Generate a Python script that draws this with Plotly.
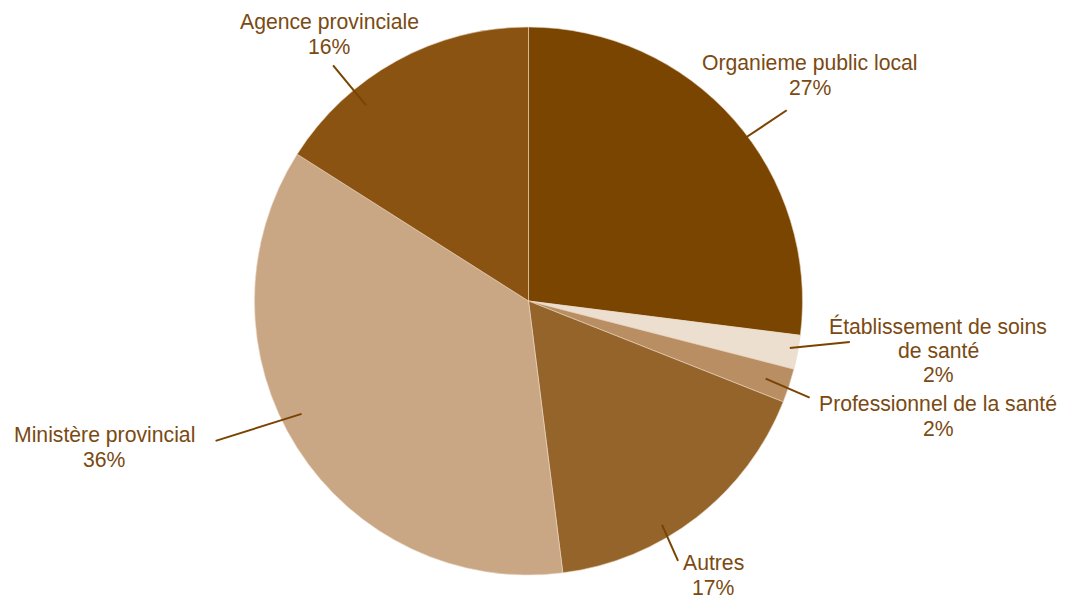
import math
import plotly.graph_objects as go

# Share of respondents by organisation type
categories = [
    "Organieme public local",
    "Établissement de soins<br>de santé",
    "Professionnel de la santé",
    "Autres",
    "Ministère provincial",
    "Agence provinciale",
]
values = [27, 2, 2, 17, 36, 16]
colors = ["#7a4501", "#ecdfd0", "#b88e62", "#95642b", "#c9a684", "#8a5312"]

W, H = 1065, 600
M_L, M_R, M_T, M_B = 254, 262, 27, 25
CX, CY = 528, 301          # pie centre in pixels
TEXT_COLOR = "#7a4a12"
LINE_COLOR = "#7a4300"
FONT = "Liberation Sans, Arial, sans-serif"
FONT_SIZE = 21.2
LINE_GAP = 24.5            # baseline-to-baseline distance of label lines

# label layout: angle nudge from slice middle (deg), start radius (px),
# leader-line offset (px) and text centre (px)
label_layout = [
    dict(nudge=4.5, r=271, off=(42, -28), text=(810, 75)),
    dict(nudge=-0.6, r=266, off=(60, -6), text=(938, 350)),
    dict(nudge=0.1, r=250, off=(44, 19), text=(938, 416)),
    dict(nudge=6.9, r=261, off=(16, 36), text=(713, 575)),
    dict(nudge=5.9, r=253, off=(-86, 27), text=(104, 447)),
    dict(nudge=-10.8, r=254, off=(-33, -40), text=(329, 34)),
]

PW, PH = W - M_L - M_R, H - M_T - M_B


def to_paper(px, py):
    return (px - M_L) / PW, (H - M_B - py) / PH


fig = go.Figure(
    go.Pie(
        labels=categories,
        values=values,
        marker=dict(colors=colors, line=dict(color="rgba(235,215,195,0.6)", width=1)),
        sort=False,
        direction="clockwise",
        rotation=0,
        textinfo="none",
        hoverinfo="label+percent",
        showlegend=False,
    )
)

total = sum(values)
cum = 0.0
shapes, annotations = [], []
for cat, val, lay in zip(categories, values, label_layout):
    mid = (cum + val / 2) / total * 360
    cum += val
    ang = math.radians(mid + lay["nudge"])
    sx = CX + lay["r"] * math.sin(ang)
    sy = CY - lay["r"] * math.cos(ang)
    ex, ey = sx + lay["off"][0], sy + lay["off"][1]
    x0, y0 = to_paper(sx, sy)
    x1, y1 = to_paper(ex, ey)
    shapes.append(dict(type="line", xref="paper", yref="paper",
                       x0=x0, y0=y0, x1=x1, y1=y1,
                       line=dict(color=LINE_COLOR, width=2)))
    lines = cat.split("<br>") + [f"{round(val / total * 100)}%"]
    tx, ty = lay["text"]
    first = ty - LINE_GAP * (len(lines) - 1) / 2
    for i, line in enumerate(lines):
        px, py = to_paper(tx, first + i * LINE_GAP)
        annotations.append(dict(
            x=px, y=py, xref="paper", yref="paper", text=line,
            showarrow=False, xanchor="center", yanchor="middle",
            font=dict(family=FONT, size=FONT_SIZE, color=TEXT_COLOR),
        ))

fig.update_layout(
    width=W, height=H,
    margin=dict(l=M_L, r=M_R, t=M_T, b=M_B),
    paper_bgcolor="white",
    plot_bgcolor="white",
    shapes=shapes,
    annotations=annotations,
)

fig.write_html("out.html")
